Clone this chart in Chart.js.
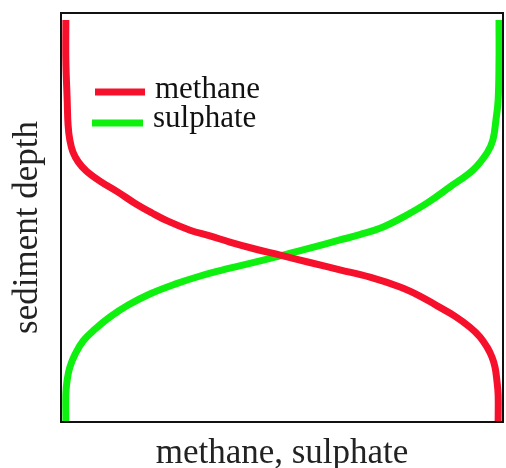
<!DOCTYPE html>
<html>
<head>
<meta charset="utf-8">
<script src="https://cdn.jsdelivr.net/npm/chart.js@4.4.1/dist/chart.umd.min.js"></script>
<style>
  html, body { margin: 0; padding: 0; background: #fff; }
  #wrap { width: 506px; height: 468px; position: relative; }
</style>
</head>
<body>
<div id="wrap"><canvas id="c" width="506" height="468"></canvas></div>
<script>
// Series labels
const seriesLabels = ['methane', 'sulphate'];
const xTitle = 'methane, sulphate';
const yTitle = 'sediment depth';

// methane: concentration (0-100) vs depth (0-100, top = 0)
const methaneX = [1.1, 1.1, 1.4, 1.6, 2.0, 2.7, 3.9, 5.7, 8.8, 12.9, 16.7, 20.6, 24.2, 29.2, 33.7, 38.2, 43.9, 49.6, 56.3, 63.1, 69.9, 76.7, 81.2, 85.1, 89.1, 92.5, 94.8, 96.4, 97.5, 98.2, 98.6, 98.9, 98.9];
const methaneY = [1.7, 11.5, 21.3, 27.4, 31.1, 34.0, 36.4, 38.6, 41.1, 43.8, 46.5, 48.9, 50.9, 53.1, 54.5, 56.0, 57.7, 59.2, 61.0, 62.8, 64.6, 67.0, 69.2, 71.6, 74.1, 76.8, 79.2, 81.7, 84.1, 86.6, 89.7, 93.4, 100];

// sulphate
const sulphateX = [99.1, 99.1, 98.9, 98.4, 97.7, 96.4, 93.2, 88.0, 82.8, 77.4, 72.9, 67.6, 63.1, 56.3, 49.6, 43.9, 38.2, 31.5, 25.8, 20.1, 15.2, 11.1, 7.7, 5.0, 3.2, 2.0, 1.4, 1.1, 1.1];
const sulphateY = [1.7, 11.5, 21.3, 26.2, 31.1, 34.2, 38.4, 42.5, 46.5, 49.9, 52.3, 54.2, 55.5, 57.5, 59.4, 60.9, 62.4, 64.3, 66.3, 68.7, 71.4, 74.3, 77.3, 80.2, 83.4, 86.6, 89.7, 93.2, 100];

const colors = ['#f7102c', '#0ef00e'];

function pts(xs, ys) { return xs.map((x, i) => ({ x: x, y: ys[i] })); }

const frameAndText = {
  id: 'frameAndText',
  afterDatasetsDraw(chart) {
    const ctx = chart.ctx;
    const a = chart.chartArea;
    ctx.save();
    // frame
    ctx.strokeStyle = '#111';
    ctx.lineWidth = 2;
    ctx.strokeRect(a.left, a.top, a.right - a.left, a.bottom - a.top);

    // legend inside plot
    const legend = [
      { x0: 95, x1: 145, y: 92, tx: 155, ty: 98 },
      { x0: 92, x1: 143, y: 123, tx: 153, ty: 127 }
    ];
    ctx.font = '31px "Liberation Serif", "DejaVu Serif", serif';
    ctx.textAlign = 'left';
    ctx.textBaseline = 'alphabetic';
    chart.data.datasets.forEach((ds, i) => {
      const L = legend[i];
      ctx.strokeStyle = ds.borderColor;
      ctx.lineWidth = 7;
      ctx.lineCap = 'butt';
      ctx.beginPath();
      ctx.moveTo(L.x0, L.y);
      ctx.lineTo(L.x1, L.y);
      ctx.stroke();
      ctx.fillStyle = '#111';
      ctx.fillText(ds.label, L.tx, L.ty);
    });

    // axis titles
    ctx.fillStyle = '#222';
    ctx.font = '35px "Liberation Serif", "DejaVu Serif", serif';
    ctx.textAlign = 'center';
    ctx.fillText(xTitle, (a.left + a.right) / 2, 463);
    ctx.translate(37, (a.top + a.bottom) / 2 + 10);
    ctx.rotate(-Math.PI / 2);
    ctx.fillText(yTitle, 0, 0);
    ctx.restore();
  }
};

new Chart(document.getElementById('c'), {
  type: 'scatter',
  data: {
    datasets: [
      { label: seriesLabels[0], data: pts(methaneX, methaneY), borderColor: colors[0], backgroundColor: colors[0], showLine: true, borderWidth: 7, pointRadius: 0, tension: 0.4, fill: false },
      { label: seriesLabels[1], data: pts(sulphateX, sulphateY), borderColor: colors[1], backgroundColor: colors[1], showLine: true, borderWidth: 7, pointRadius: 0, tension: 0.4, fill: false }
    ]
  },
  options: {
    responsive: false,
    animation: false,
    events: [],
    layout: { padding: { left: 61, top: 13, right: 3, bottom: 46 } },
    plugins: { legend: { display: false }, tooltip: { enabled: false } },
    scales: {
      x: { type: 'linear', min: 0, max: 100, display: false },
      y: { type: 'linear', min: 0, max: 100, reverse: true, display: false }
    }
  },
  plugins: [frameAndText]
});
</script>
</body>
</html>
